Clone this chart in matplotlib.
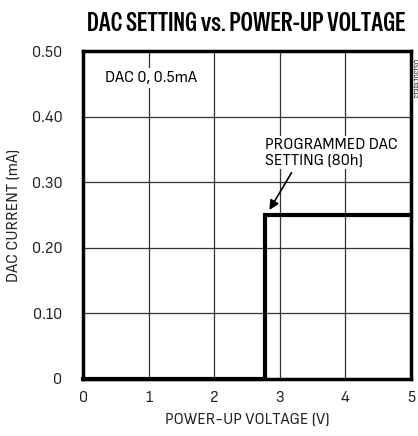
import matplotlib.pyplot as plt

plt.rcParams['font.family'] = ['Sofia Sans Semi Condensed', 'DejaVu Sans']

# data
voltage = [0, 2.78, 2.78, 5]
current = [0, 0, 0.25, 0.25]
xticks = [0, 1, 2, 3, 4, 5]
yticks = [0, 0.1, 0.2, 0.3, 0.4, 0.5]
ylabels = ['0', '0.10', '0.20', '0.30', '0.40', '0.50']

fig = plt.figure(figsize=(4.18, 4.36), dpi=100)
ax = fig.add_axes([0.199, 0.131, 0.784, 0.752])

ax.plot(voltage, current, color='black', lw=3, solid_joinstyle='miter', clip_on=False, zorder=3)

ax.set_xlim(0, 5)
ax.set_ylim(0, 0.5)
ax.set_xticks(xticks)
ax.set_yticks(yticks)
ax.set_yticklabels(ylabels)
ax.tick_params(length=0, labelsize=12, colors='#222222')
ax.tick_params(axis='y', pad=15)
ax.tick_params(axis='x', pad=9)
ax.grid(True, color='#333333', lw=0.9)
for s in ax.spines.values():
    s.set_linewidth(2.5)
    s.set_zorder(4)

ax.set_xlabel('POWER-UP VOLTAGE (V)', fontsize=12, labelpad=5, color='#222222')
ax.set_ylabel('DAC CURRENT (mA)', fontsize=12, labelpad=8, color='#222222')
fig.text(0.59, 0.947, 'DAC SETTING vs. POWER-UP VOLTAGE', ha='center', va='center',
         fontsize=19, family=['Special Gothic Condensed One', 'DejaVu Sans'])

ax.text(0.33, 0.459, 'DAC 0, 0.5mA', fontsize=12, va='center', ha='left',
        bbox=dict(facecolor='white', edgecolor='none', pad=2))
ax.text(2.77, 0.345, 'PROGRAMMED DAC\nSETTING (80h)', fontsize=12, ha='left', va='center',
        linespacing=1.15, bbox=dict(facecolor='white', edgecolor='none', pad=1))
ax.annotate('', xy=(2.82, 0.254), xytext=(3.2, 0.318),
            arrowprops=dict(arrowstyle='-|>', color='black', lw=1.2, mutation_scale=14))

fig.text(0.993, 0.82, 'DS1501 toc15', rotation=270, fontsize=5, ha='center', va='center')

fig.savefig('out.png', dpi=100)
